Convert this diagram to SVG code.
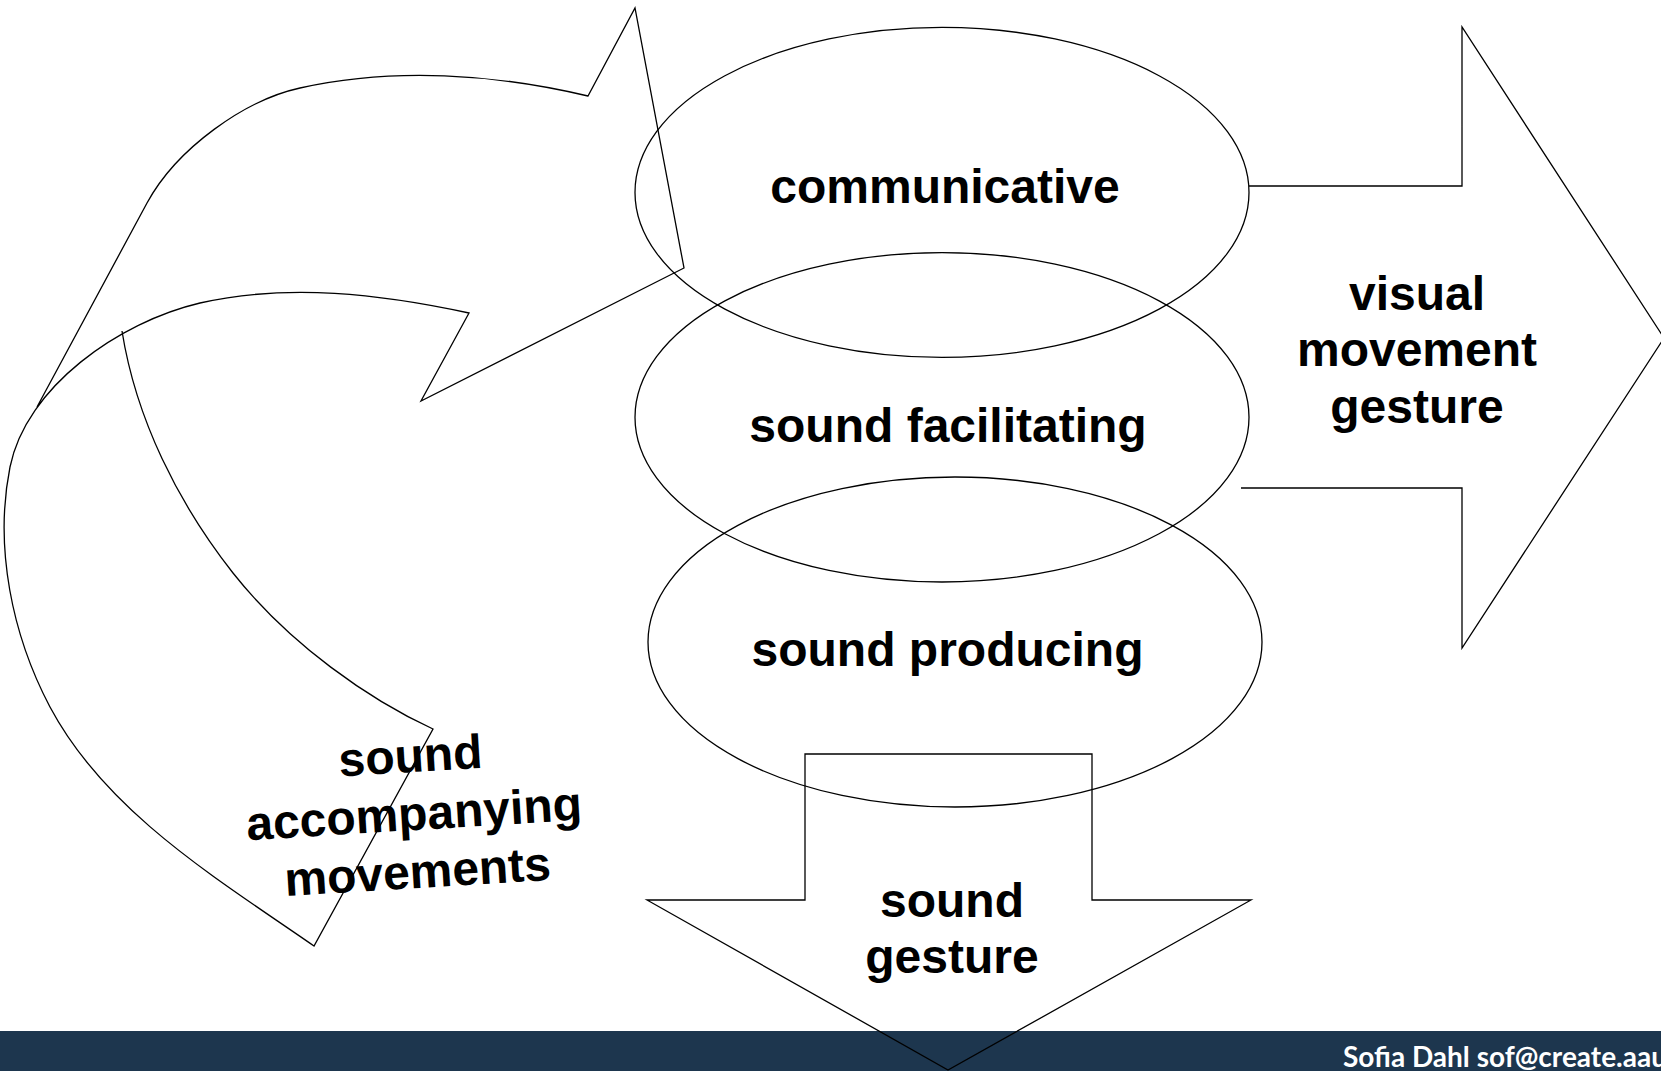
<svg xmlns="http://www.w3.org/2000/svg" width="1661" height="1071" viewBox="0 0 1661 1071">
<style>
.ln{fill:none;stroke:#000;stroke-width:1.3;stroke-linejoin:miter}
.lbl{font-family:"Liberation Sans",Arial,sans-serif;font-weight:bold;font-size:48px;fill:#000;text-anchor:middle}
.foot{font-family:Lato,"Open Sans",sans-serif;font-weight:bold;font-size:28px;fill:#fff}
</style>
<rect x="0" y="0" width="1661" height="1071" fill="#fff"/>
<rect id="footer" x="0" y="1031" width="1661" height="40" fill="#1d364e"/>
<text class="foot" x="1343" y="1067" textLength="324" lengthAdjust="spacingAndGlyphs">Sofia Dahl sof@create.aau</text>
<g id="connectors">
<path id="curved-arrows" class="ln" d="M37,407 L147,203 C177,148 245,100 300,88 C394,67 495,74 588,96 L635,8 L684,268 L421,401 L469,313 C381,294 288,283 200,303 C119,322 26,387 10,467 C-6,547 12,635 50,707 C106,812 216,878 314,946 L433,729 C370,700 290,645 233,573 C178,503 136,419 122,331"/>
<polyline id="arrow-right" class="ln" points="1249,186 1462,186 1462,27 1664,338 1462,648 1462,488 1241,488"/>
<polygon id="arrow-down" class="ln" points="805,754 1092,754 1092,900 1251,900 948,1070 647,900 805,900"/>
</g>
<g id="node-communicative">
<ellipse class="ln" cx="942" cy="192.4" rx="307" ry="165"/>
<text class="lbl" x="945" y="203">communicative</text>
</g>
<g id="node-sound-facilitating">
<ellipse class="ln" cx="942" cy="417.3" rx="307" ry="164.7"/>
<text class="lbl" x="948" y="442">sound facilitating</text>
</g>
<g id="node-sound-producing">
<ellipse class="ln" cx="955" cy="642" rx="307" ry="165"/>
<text class="lbl" x="947.5" y="666">sound producing</text>
</g>
<g id="label-visual">
<text class="lbl" x="1417" y="310">visual</text>
<text class="lbl" x="1417" y="366">movement</text>
<text class="lbl" x="1417" y="423">gesture</text>
</g>
<g id="label-sound-gesture">
<text class="lbl" x="952" y="917">sound</text>
<text class="lbl" x="952" y="973">gesture</text>
</g>
<g id="label-accompanying" transform="translate(415,830) rotate(-3.5)">
<text class="lbl" x="0" y="-58">sound</text>
<text class="lbl" x="0" y="0">accompanying</text>
<text class="lbl" x="0" y="58">movements</text>
</g>
</svg>
